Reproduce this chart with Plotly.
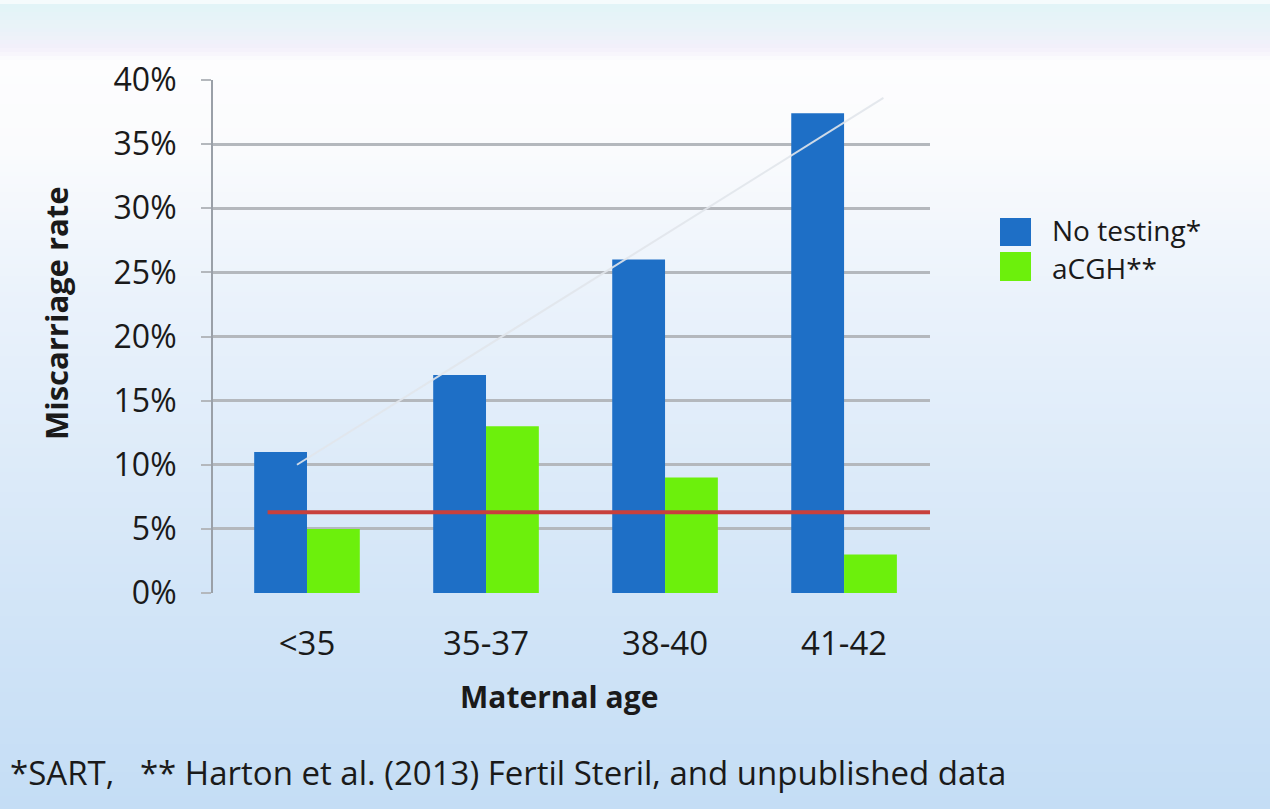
import plotly.graph_objects as go

categories = ["<35", "35-37", "38-40", "41-42"]
no_testing = [0.11, 0.17, 0.26, 0.374]
acgh = [0.05, 0.13, 0.09, 0.03]
trend_x = [-0.056, 3.22]
trend_y = [0.10, 0.386]
red_x = [-0.22, 3.5]
red_y = [0.063, 0.063]
yticks = [0, 0.05, 0.10, 0.15, 0.20, 0.25, 0.30, 0.35, 0.40]
ytick_text = ["0%", "5%", "10%", "15%", "20%", "25%", "30%", "35%", "40%"]

W, H = 1270, 809
FONT = "Open Sans"
TXT = "#1a1a1a"
BLUE = "#1e6fc6"
GREEN = "#6cf00c"

fig = go.Figure()
xpos = list(range(len(categories)))
fig.add_trace(go.Bar(x=xpos, y=no_testing, name="No testing*", marker=dict(color=BLUE, line_width=0)))
fig.add_trace(go.Bar(x=xpos, y=acgh, name="aCGH**", marker=dict(color=GREEN, line_width=0)))
fig.add_trace(go.Scatter(x=trend_x, y=trend_y, mode="lines", line=dict(color="rgba(225,230,235,0.9)", width=2), showlegend=False))
fig.add_trace(go.Scatter(x=red_x, y=red_y, mode="lines", line=dict(color="#c8403c", width=4), showlegend=False))

# background gradient
def lerp(c1, c2, t):
    return tuple(int(round(a + (b - a) * t)) for a, b in zip(c1, c2))

stops = [
    (0, (255, 255, 255)),
    (6, (226, 244, 247)),
    (35, (236, 242, 249)),
    (48, (243, 240, 250)),
    (60, (253, 253, 254)),
    (150, (250, 251, 253)),
    (300, (234, 242, 251)),
    (550, (214, 231, 248)),
    (809, (196, 221, 245)),
]
shapes = []
step = 4
for y0 in range(0, H, step):
    yc = y0 + step / 2
    for i in range(len(stops) - 1):
        if stops[i][0] <= yc <= stops[i + 1][0]:
            t = (yc - stops[i][0]) / (stops[i + 1][0] - stops[i][0])
            c = lerp(stops[i][1], stops[i + 1][1], t)
            break
    shapes.append(dict(type="rect", xref="paper", yref="paper", x0=0, x1=1,
                       y0=1 - (y0 + step) / H, y1=1 - y0 / H, fillcolor="rgb(%d,%d,%d)" % c,
                       line_width=0, layer="below"))

# legend swatches
def px_x(x):
    return x / W
def px_y(y):
    return 1 - y / H
shapes.append(dict(type="rect", xref="paper", yref="paper", x0=px_x(1000), x1=px_x(1031),
                   y0=px_y(246), y1=px_y(218), fillcolor=BLUE, line_width=0))
shapes.append(dict(type="rect", xref="paper", yref="paper", x0=px_x(1000), x1=px_x(1031),
                   y0=px_y(281), y1=px_y(252), fillcolor=GREEN, line_width=0))

annotations = [
    dict(text="No testing*", x=px_x(1050), y=px_y(230), xref="paper", yref="paper", xanchor="left",
         yanchor="middle", showarrow=False, font=dict(family=FONT, size=28, color=TXT)),
    dict(text="aCGH**", x=px_x(1050), y=px_y(268), xref="paper", yref="paper", xanchor="left",
         yanchor="middle", showarrow=False, font=dict(family=FONT, size=28, color=TXT)),
    dict(text="<b>Miscarriage rate</b>", x=px_x(56), y=px_y(313), xref="paper", yref="paper",
         xanchor="center", yanchor="middle", textangle=-90, showarrow=False,
         font=dict(family=FONT, size=31, color=TXT)),
    dict(text="<b>Maternal age</b>", x=px_x(559), y=px_y(696), xref="paper", yref="paper",
         xanchor="center", yanchor="middle", showarrow=False, font=dict(family=FONT, size=30, color=TXT)),
    dict(text="*SART,   ** Harton et al. (2013) Fertil Steril, and unpublished data", x=px_x(8), y=px_y(772),
         xref="paper", yref="paper", xanchor="left", yanchor="middle", showarrow=False,
         font=dict(family=FONT, size=33, color=TXT)),
]

fig.update_layout(
    width=W, height=H,
    margin=dict(l=0, r=0, t=0, b=0, autoexpand=False),
    paper_bgcolor="white",
    plot_bgcolor="rgba(0,0,0,0)",
    barmode="group", bargap=0.41, bargroupgap=0,
    showlegend=False,
    shapes=shapes,
    annotations=annotations,
    xaxis=dict(domain=[213 / W, 930 / W], range=[-0.525, 3.48], tickvals=xpos, ticktext=categories,
               showgrid=False, zeroline=False, showline=False, ticks="", automargin=False,
               tickfont=dict(family=FONT, size=33, color=TXT), ticklabelstandoff=28),
    yaxis=dict(domain=[1 - 593 / H, 1 - 80 / H], range=[0, 0.40], tickvals=yticks, ticktext=ytick_text,
               showgrid=True, gridcolor="#b4b8bd", gridwidth=3, zeroline=False, automargin=False,
               showline=True, linecolor="#9aa0a8", linewidth=2, ticks="outside", ticklen=10,
               tickcolor="#b4b8bd", tickwidth=2, ticklabelstandoff=18,
               tickfont=dict(family=FONT, size=32, color=TXT)),
    font=dict(family=FONT, color=TXT),
)

fig.write_html("out.html")
